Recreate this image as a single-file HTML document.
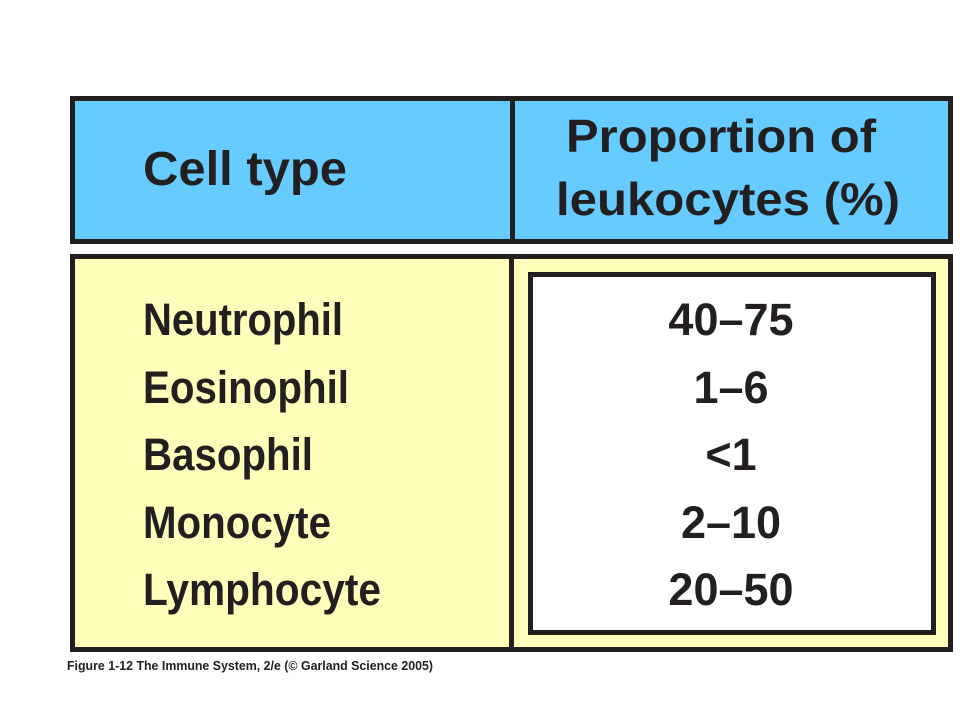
<!DOCTYPE html>
<html><head><meta charset="utf-8"><style>
html,body{margin:0;padding:0;background:#fff;width:960px;height:720px;overflow:hidden}
svg text{font-family:"Liberation Sans",Arial,sans-serif;font-weight:bold;fill:#231f20}
</style></head><body>
<svg width="960" height="720" viewBox="0 0 960 720">
<g>
<rect x="72.5" y="98.5" width="878" height="143" fill="#66ccff" stroke="#231f20" stroke-width="5"/>
<line x1="512.5" y1="98" x2="512.5" y2="242" stroke="#231f20" stroke-width="5"/>
<text x="143" y="185" font-size="48" textLength="204" lengthAdjust="spacingAndGlyphs">Cell type</text>
<text x="566" y="152" font-size="46" textLength="310" lengthAdjust="spacingAndGlyphs">Proportion of</text>
<text x="556" y="215" font-size="46" textLength="344" lengthAdjust="spacingAndGlyphs">leukocytes (%)</text>
</g>
<g>
<rect x="72.5" y="256.5" width="878" height="393" fill="#ffffbb" stroke="#231f20" stroke-width="5"/>
<line x1="511.5" y1="256" x2="511.5" y2="650" stroke="#231f20" stroke-width="5"/>
<rect x="530.5" y="274.5" width="403" height="358" fill="#fff" stroke="#231f20" stroke-width="5"/>
<text x="143" y="335" font-size="45" textLength="200" lengthAdjust="spacingAndGlyphs">Neutrophil</text>
<text x="143" y="403" font-size="45" textLength="206" lengthAdjust="spacingAndGlyphs">Eosinophil</text>
<text x="143" y="470" font-size="45" textLength="170" lengthAdjust="spacingAndGlyphs">Basophil</text>
<text x="143" y="538" font-size="45" textLength="188" lengthAdjust="spacingAndGlyphs">Monocyte</text>
<text x="143" y="605" font-size="45" textLength="238" lengthAdjust="spacingAndGlyphs">Lymphocyte</text>
<text x="731" y="335" font-size="45" text-anchor="middle">40–75</text>
<text x="731" y="403" font-size="45" text-anchor="middle">1–6</text>
<text x="731" y="470" font-size="45" text-anchor="middle">&lt;1</text>
<text x="731" y="538" font-size="45" text-anchor="middle">2–10</text>
<text x="731" y="605" font-size="45" text-anchor="middle">20–50</text>
</g>
<text x="67" y="670" font-size="13" textLength="366" lengthAdjust="spacingAndGlyphs">Figure 1-12  The Immune System, 2/e (© Garland Science 2005)</text>
</svg>
</body></html>
